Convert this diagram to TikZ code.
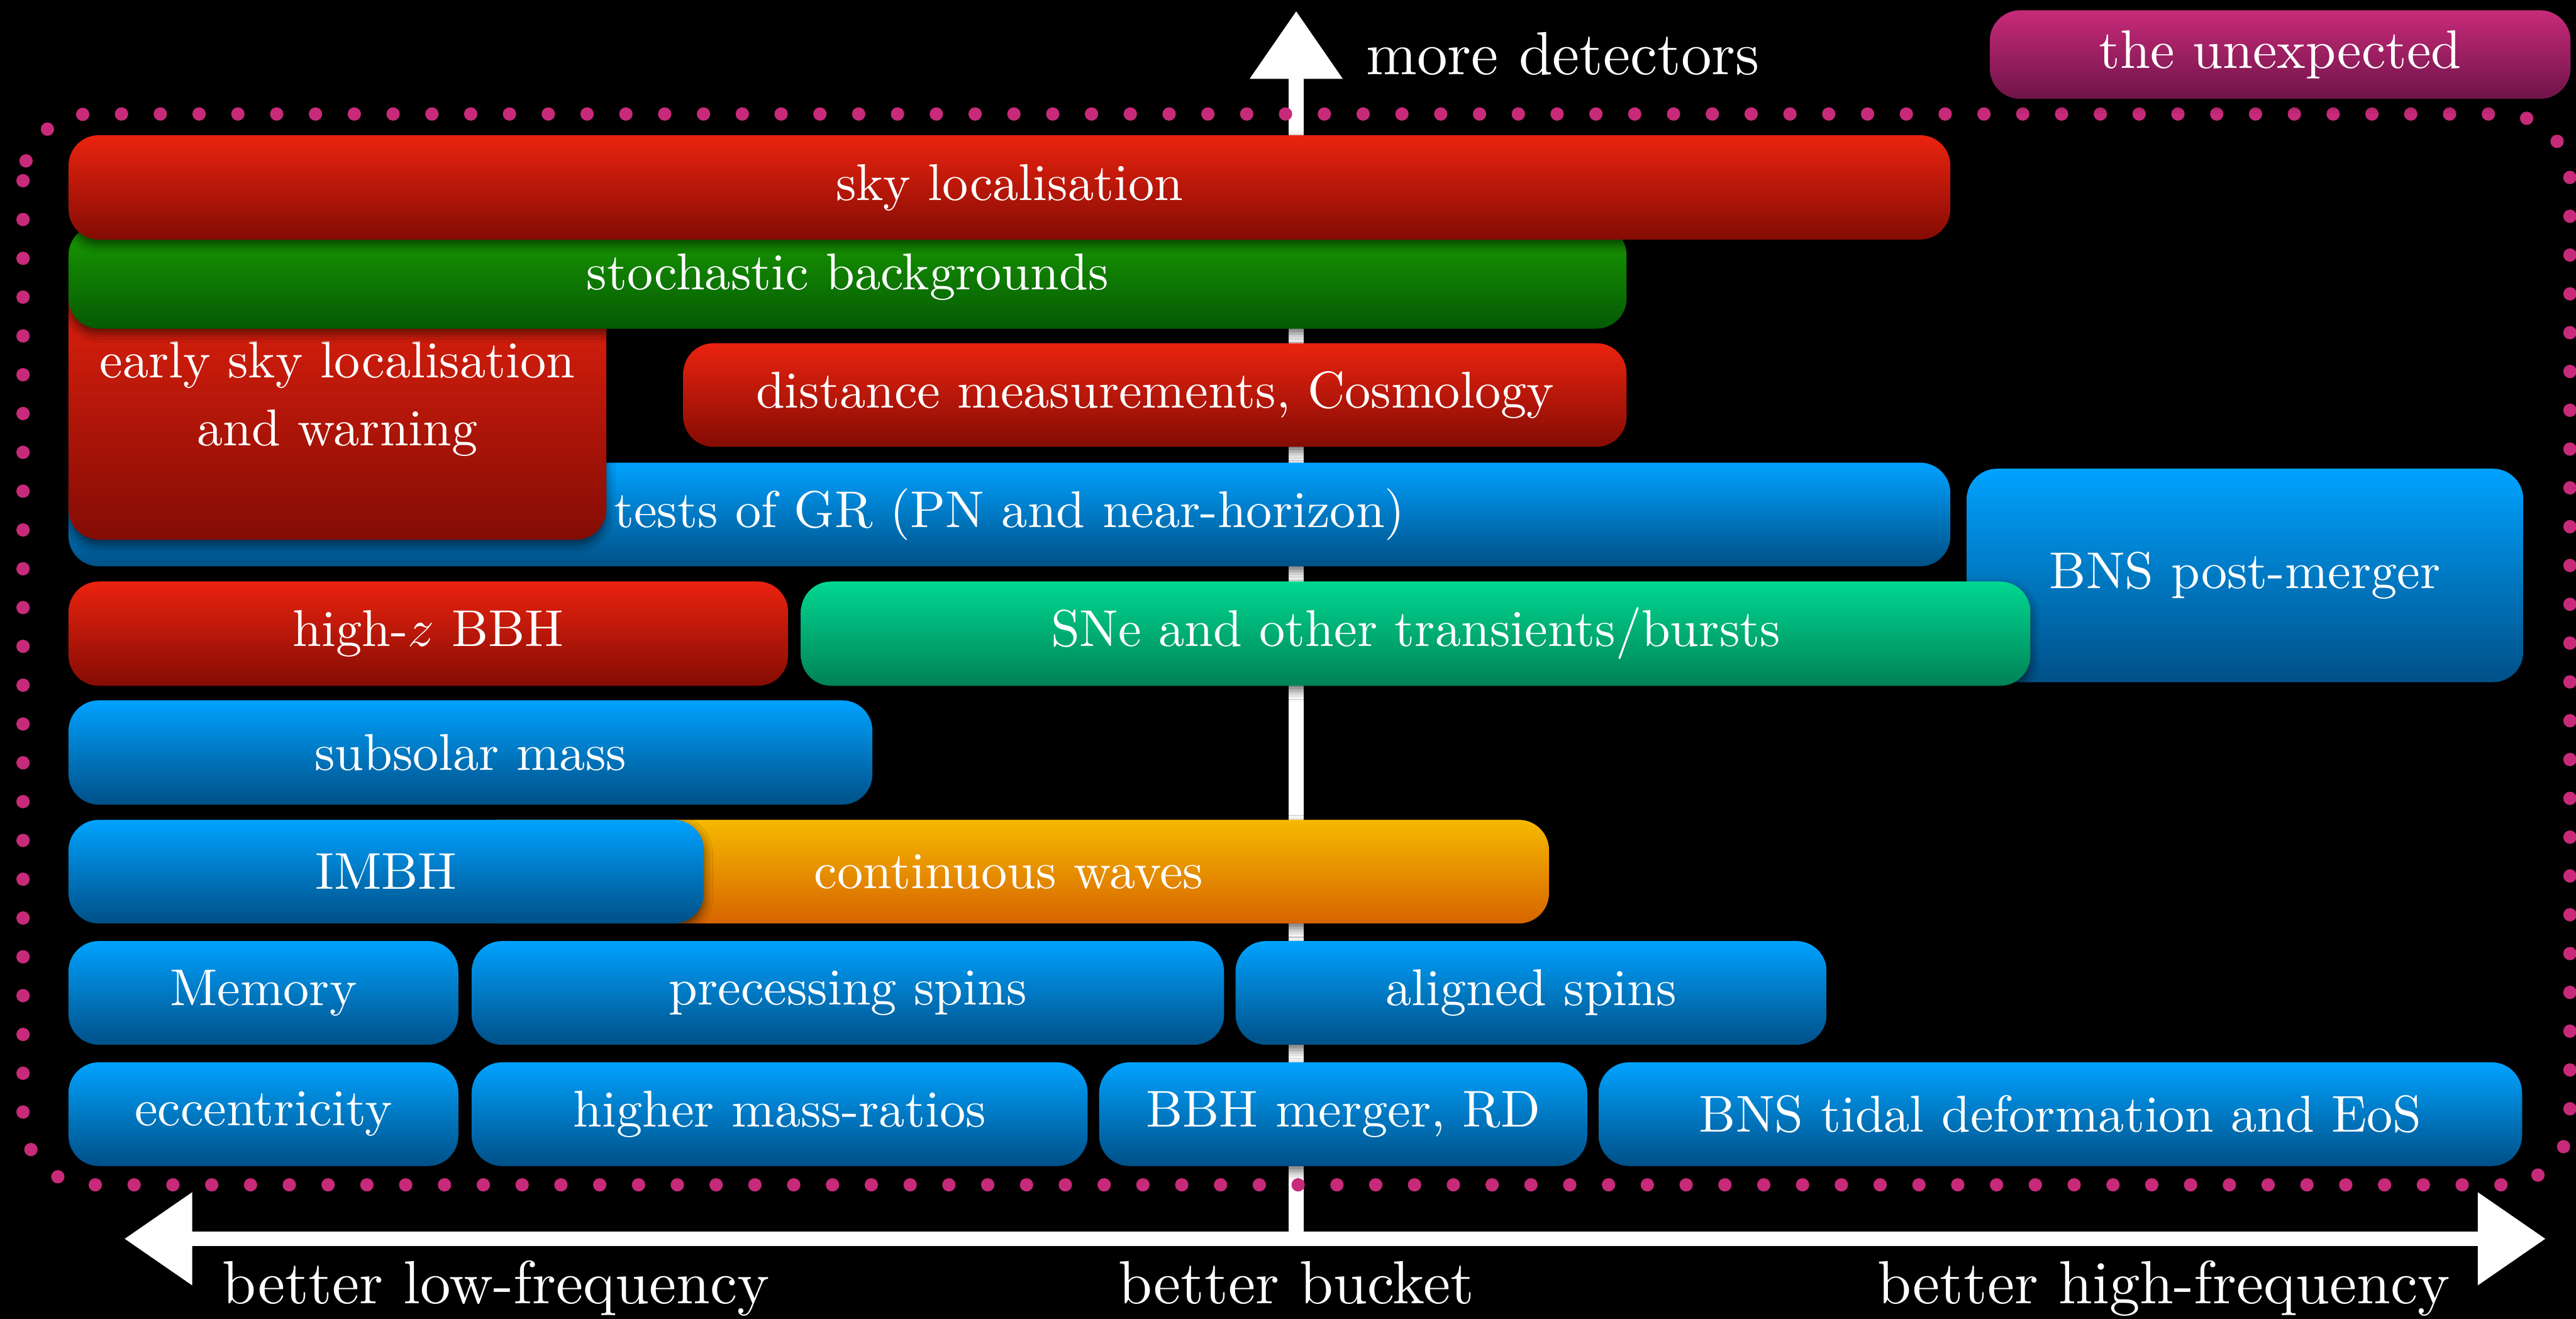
\documentclass[tikz,border=0pt]{standalone}
\usepackage{fontspec}
\setmainfont{lmroman10-regular}[Extension=.otf, ItalicFont=lmroman10-italic, BoldFont=lmroman10-bold]
\usetikzlibrary{arrows.meta, shadows.blur}

\definecolor{redtop}{RGB}{235,35,15}
\definecolor{redbot}{RGB}{132,12,4}
\definecolor{greentop}{RGB}{25,155,0}
\definecolor{greenbot}{RGB}{5,90,5}
\definecolor{bluetop}{RGB}{0,162,255}
\definecolor{bluebot}{RGB}{0,80,135}
\definecolor{tealtop}{RGB}{0,215,145}
\definecolor{tealbot}{RGB}{0,130,85}
\definecolor{orangetop}{RGB}{245,185,0}
\definecolor{orangebot}{RGB}{215,100,0}
\definecolor{pinktop}{RGB}{200,42,122}
\definecolor{pinkbot}{RGB}{110,20,72}

\newcommand{\barfont}{\fontsize{24.3}{32}\selectfont}
\newcommand{\axisfont}{\fontsize{28.6}{34}\selectfont}

\tikzset{>=stealth,
    bar/.style={rounded corners=0.5cm, inner sep=0pt, text=white, font=\barfont, align=center,
        blur shadow={shadow xshift=0pt, shadow yshift=-0.08cm, shadow blur radius=0.15cm, shadow opacity=60}},
    redbar/.style={bar, top color=redtop, bottom color=redbot},
    greenbar/.style={bar, top color=greentop, bottom color=greenbot},
    bluebar/.style={bar, top color=bluetop, bottom color=bluebot},
    tealbar/.style={bar, top color=tealtop, bottom color=tealbot},
    orangebar/.style={bar, top color=orangetop, bottom color=orangebot},
    pinkbar/.style={bar, top color=pinktop, bottom color=pinkbot},
    chalk/.style={white, line width=0.24cm, -{Triangle[length=1.12cm, width=1.47cm]}},
    axislabel/.style={text=white, font=\axisfont, inner sep=0pt}
}

\begin{document}
\begin{tikzpicture}
    \fill[black] (0,0) rectangle (42.49,-21.75);
    \useasboundingbox (0,0) rectangle (42.49,-21.75);

    % axes
    \coordinate (origin) at (21.38,-20.43);
    \coordinate (lowend) at (2.05,-20.43);
    \coordinate (highend) at (41.99,-20.43);
    \coordinate (topend) at (21.38,-0.18);
    \draw[chalk] (origin) -- (lowend);
    \draw[chalk] (origin) -- (highend);
    \draw[chalk] (origin) -- (topend);

    \node[axislabel, anchor=base west] (more) at (22.53,-1.23) {more detectors};
    \node[axislabel, anchor=base west] (lowf) at (3.66,-21.50) {better low-frequency};
    \node[axislabel, anchor=base] (bucket) at (21.38,-21.50) {better bucket};
    \node[axislabel, anchor=base west] (highf) at (30.96,-21.50) {better high-frequency};

    % dotted frame
    \draw[pinktop, line width=0.22cm, line cap=round, dash pattern=on 0pt off 0.64cm, rounded corners=1.1cm]
        (0.38,-1.88) rectangle (42.39,-19.54);

    \node[pinkbar, font=\fontsize{25.5}{30}\selectfont, minimum width=9.58cm, minimum height=1.46cm] (unexpected) at (37.61,-0.90) {the unexpected};

    % rows, back to front
    \node[bluebar, minimum width=31.04cm, minimum height=1.71cm] (testgr) at (16.65,-8.485) {tests of GR (PN and near-horizon)};
    \node[redbar, minimum width=8.87cm, minimum height=4.64cm] (early) at (5.565,-6.58) {early sky localisation\\and warning};
    \node[greenbar, minimum width=25.70cm, minimum height=1.71cm] (stoch) at (13.98,-4.565) {stochastic backgrounds};
    \node[redbar, minimum width=31.04cm, minimum height=1.72cm] (sky) at (16.65,-3.09) {sky localisation};
    \node[redbar, minimum width=15.56cm, minimum height=1.71cm] (dist) at (19.05,-6.515) {distance measurements, Cosmology};

    \node[bluebar, minimum width=9.18cm, minimum height=3.52cm] (bnspm) at (37.03,-9.49) {BNS post-merger};
    \node[redbar, minimum width=11.87cm, minimum height=1.72cm] (highz) at (7.065,-10.45) {high-$z$ BBH};
    \node[tealbar, minimum width=20.28cm, minimum height=1.72cm] (sne) at (23.35,-10.45) {SNe and other transients/bursts};

    \node[bluebar, minimum width=13.26cm, minimum height=1.72cm] (subsolar) at (7.76,-12.41) {subsolar mass};

    \node[orangebar, minimum width=17.82cm, minimum height=1.71cm] (cw) at (16.64,-14.375) {continuous waves};
    \node[bluebar, minimum width=10.48cm, minimum height=1.71cm] (imbh) at (6.37,-14.375) {IMBH};

    \node[bluebar, minimum width=6.43cm, minimum height=1.71cm] (memory) at (4.345,-16.375) {Memory};
    \node[bluebar, minimum width=12.41cm, minimum height=1.71cm] (precess) at (13.985,-16.375) {precessing spins};
    \node[bluebar, minimum width=9.75cm, minimum height=1.71cm] (aligned) at (25.255,-16.375) {aligned spins};

    \node[bluebar, minimum width=6.43cm, minimum height=1.71cm] (ecc) at (4.345,-18.375) {eccentricity};
    \node[bluebar, minimum width=10.16cm, minimum height=1.71cm] (massratio) at (12.86,-18.375) {higher mass-ratios};
    \node[bluebar, minimum width=8.05cm, minimum height=1.71cm] (bbhrd) at (22.155,-18.375) {BBH merger, RD};
    \node[bluebar, minimum width=15.23cm, minimum height=1.71cm] (bnstidal) at (33.985,-18.375) {BNS tidal deformation and EoS};
\end{tikzpicture}
\end{document}
